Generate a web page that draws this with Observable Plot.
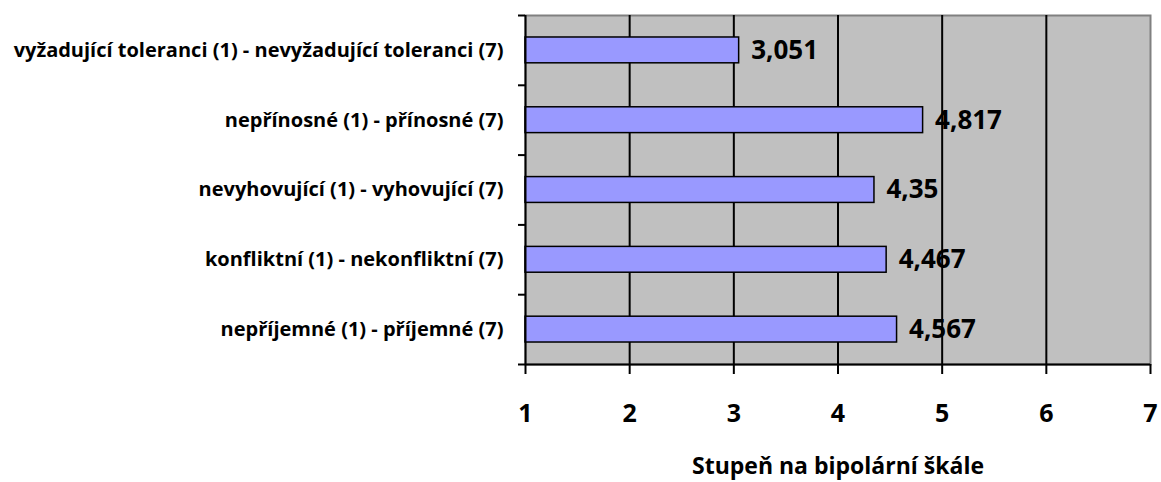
<!DOCTYPE html>
<html>
<head>
<meta charset="utf-8">
<script src="https://cdn.jsdelivr.net/npm/d3@7"></script>
<script src="https://cdn.jsdelivr.net/npm/@observablehq/plot@0.6"></script>
<style>
  html, body { margin: 0; padding: 0; background: #fff; }
  svg { font-family: "Open Sans", sans-serif; }
</style>
</head>
<body>
<div id="chart"></div>
<script>
// Categories listed bottom to top
const categories = [
  "nepříjemné (1) - příjemné (7)",
  "konfliktní (1) - nekonfliktní (7)",
  "nevyhovující (1) - vyhovující (7)",
  "nepřínosné (1) - přínosné (7)",
  "vyžadující toleranci (1) - nevyžadující toleranci (7)"
];
const values = [4.567, 4.467, 4.35, 4.817, 3.051];
const xTicks = [1, 2, 3, 4, 5, 6, 7];
const xTitle = "Stupeň na bipolární škále";

const data = categories.map((c, i) => ({ category: c, value: values[i], i }));
const fmt = v => String(v).replace(".", ",");
const half = 0.185;

const plot = Plot.plot({
  width: 1161,
  height: 482,
  marginLeft: 525,
  marginRight: 11,
  marginTop: 15,
  marginBottom: 118,
  x: { domain: [1, 7] },
  y: { domain: [0, categories.length] },
  marks: [
    Plot.frame({ fill: "#c0c0c0", stroke: "#808080", strokeWidth: 2 }),
    Plot.gridX([2, 3, 4, 5, 6], { stroke: "#000", strokeOpacity: 1, strokeWidth: 2 }),
    Plot.rectX(data, {
      x1: 1,
      x2: "value",
      y1: d => d.i + 0.5 - half,
      y2: d => d.i + 0.5 + half,
      fill: "#9999ff",
      stroke: "#000",
      strokeWidth: 1.5
    }),
    Plot.text(data, {
      x: "value",
      y: d => d.i + 0.5,
      text: d => fmt(d.value),
      textAnchor: "start",
      dx: 12,
      fontSize: 26,
      fontWeight: "bold",
      fill: "#000"
    }),
    Plot.ruleX([1], { stroke: "#000", strokeWidth: 2 }),
    Plot.ruleY([0], { stroke: "#000", strokeWidth: 2 }),
    Plot.axisX(xTicks, {
      tickSize: 10,
      tickPadding: 30,
      tickFormat: d => String(d),
      fontSize: 25,
      fontWeight: "bold",
      strokeWidth: 2,
      label: null
    }),
    Plot.text([xTitle], {
      frameAnchor: "bottom",
      dy: 109,
      text: d => d,
      fontSize: 23,
      fontWeight: "bold",
      fill: "#000"
    }),
    Plot.axisY(d3.range(categories.length + 1), {
      tickSize: 7,
      tickFormat: () => "",
      strokeWidth: 2,
      label: null
    }),
    Plot.axisY(data.map(d => d.i + 0.5), {
      tickSize: 0,
      tickPadding: 22,
      tickFormat: v => categories[Math.floor(v)],
      fontSize: 20,
      fontWeight: "bold",
      label: null
    })
  ]
});
document.getElementById("chart").appendChild(plot);
</script>
</body>
</html>
